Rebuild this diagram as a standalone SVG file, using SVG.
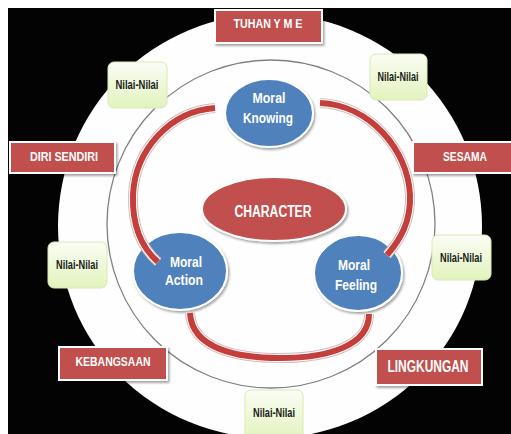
<svg xmlns="http://www.w3.org/2000/svg" width="511" height="434" viewBox="0 0 511 434">
<defs>
<style>
.lbl{font-family:"Liberation Sans",Arial,sans-serif;font-weight:bold;text-anchor:middle}
.wt{fill:#ffffff}
.dk{fill:#1a1a1a}
.rbox{fill:#C0504D;stroke:#ffffff;stroke-width:2}
.nbox{fill:url(#ng);stroke:#d9e9b4;stroke-width:1}
.blue{fill:#4F81BD;stroke:#ffffff;stroke-width:2}
.red{fill:#C0504D;stroke:#ffffff;stroke-width:2}
.band-bg{fill:none;stroke:#d9bcbb;stroke-width:10}
.band-hl{fill:none;stroke:#ffffff;stroke-width:8}
.band{fill:none;stroke:#C43E3B;stroke-width:6}
</style>
<linearGradient id="ng" x1="0" y1="0" x2="0" y2="1">
<stop offset="0" stop-color="#fbfdf5"/>
<stop offset="1" stop-color="#e2f3bd"/>
</linearGradient>
<filter id="sh" x="-20%" y="-20%" width="140%" height="140%">
<feDropShadow dx="1.5" dy="2" stdDeviation="1.2" flood-color="#000" flood-opacity="0.35"/>
</filter>
</defs>

<rect x="8" y="8" width="503" height="426" fill="#030303"/>
<circle cx="270" cy="226" r="212" fill="#fdfefd"/>
<circle cx="271" cy="224" r="164" fill="none" stroke="#808080" stroke-width="1.3"/>

<g id="tuhan">
<rect class="rbox" x="215" y="10" width="107" height="33" filter="url(#sh)"/>
<text class="lbl wt" x="268" y="28" font-size="12" textLength="69" lengthAdjust="spacingAndGlyphs">TUHAN Y M E</text>
</g>
<g id="diri-sendiri">
<rect class="rbox" x="10" y="142" width="105" height="31" filter="url(#sh)"/>
<text class="lbl wt" x="64" y="161" font-size="13" textLength="68" lengthAdjust="spacingAndGlyphs">DIRI SENDIRI</text>
</g>
<g id="sesama">
<rect class="rbox" x="413" y="142" width="100" height="31" filter="url(#sh)"/>
<text class="lbl wt" x="465" y="161" font-size="13" textLength="44" lengthAdjust="spacingAndGlyphs">SESAMA</text>
</g>
<g id="kebangsaan">
<rect class="rbox" x="59" y="347" width="108" height="33" filter="url(#sh)"/>
<text class="lbl wt" x="113" y="366" font-size="13" textLength="75" lengthAdjust="spacingAndGlyphs">KEBANGSAAN</text>
</g>
<g id="lingkungan">
<rect class="rbox" x="376" y="349" width="106" height="36" filter="url(#sh)"/>
<text class="lbl wt" x="428" y="372" font-size="16" textLength="81" lengthAdjust="spacingAndGlyphs">LINGKUNGAN</text>
</g>

<g id="nilai-tl">
<rect class="nbox" x="108" y="62" width="59" height="46" rx="6"/>
<text class="lbl dk" x="137" y="89" font-size="12" textLength="43" lengthAdjust="spacingAndGlyphs">Nilai-Nilai</text>
</g>
<g id="nilai-tr">
<rect class="nbox" x="370" y="54" width="57" height="46" rx="6"/>
<text class="lbl dk" x="398" y="81" font-size="12" textLength="41" lengthAdjust="spacingAndGlyphs">Nilai-Nilai</text>
</g>
<g id="nilai-l">
<rect class="nbox" x="48" y="242" width="59" height="46" rx="6"/>
<text class="lbl dk" x="77" y="269" font-size="12" textLength="42" lengthAdjust="spacingAndGlyphs">Nilai-Nilai</text>
</g>
<g id="nilai-r">
<rect class="nbox" x="432" y="235" width="59" height="45" rx="6"/>
<text class="lbl dk" x="461" y="262" font-size="12" textLength="42" lengthAdjust="spacingAndGlyphs">Nilai-Nilai</text>
</g>
<g id="nilai-b">
<rect class="nbox" x="245" y="390" width="58" height="50" rx="6"/>
<text class="lbl dk" x="274" y="417" font-size="12" textLength="42" lengthAdjust="spacingAndGlyphs">Nilai-Nilai</text>
</g>

<g id="moral-knowing">
<ellipse class="blue" cx="269" cy="113" rx="44" ry="34" filter="url(#sh)"/>
<text class="lbl wt" x="269" y="103" font-size="15" textLength="33" lengthAdjust="spacingAndGlyphs">Moral</text>
<text class="lbl wt" x="268" y="123" font-size="15" textLength="50" lengthAdjust="spacingAndGlyphs">Knowing</text>
</g>
<g id="moral-action">
<ellipse class="blue" cx="180" cy="271" rx="47" ry="39" filter="url(#sh)"/>
<text class="lbl wt" x="186" y="267" font-size="15" textLength="32" lengthAdjust="spacingAndGlyphs">Moral</text>
<text class="lbl wt" x="184" y="285" font-size="15" textLength="38" lengthAdjust="spacingAndGlyphs">Action</text>
</g>
<g id="moral-feeling">
<ellipse class="blue" cx="358" cy="273" rx="44" ry="38" filter="url(#sh)"/>
<text class="lbl wt" x="354" y="270" font-size="15" textLength="32" lengthAdjust="spacingAndGlyphs">Moral</text>
<text class="lbl wt" x="356" y="290" font-size="15" textLength="42" lengthAdjust="spacingAndGlyphs">Feeling</text>
</g>
<g id="character">
<ellipse class="red" cx="274" cy="209" rx="72" ry="32" filter="url(#sh)"/>
<text class="lbl wt" x="273" y="217" font-size="16" textLength="77" lengthAdjust="spacingAndGlyphs">CHARACTER</text>
</g>

<g id="connectors">
<path class="band-bg" d="M215,108 C170,111 135,150 133,195 C132,228 142,248 158,262"/>
<path class="band-hl" d="M215,108 C170,111 135,150 133,195 C132,228 142,248 158,262"/>
<path class="band" d="M215,108 C170,111 135,150 133,195 C132,228 142,248 158,262"/>
<path class="band-bg" d="M320,103 C370,105 408,150 410,195 C411,222 400,240 387,255"/>
<path class="band-hl" d="M320,103 C370,105 408,150 410,195 C411,222 400,240 387,255"/>
<path class="band" d="M320,103 C370,105 408,150 410,195 C411,222 400,240 387,255"/>
<path class="band-bg" d="M190,313 C192,350 240,358 280,358 C330,358 369,345 369,314"/>
<path class="band-hl" d="M190,313 C192,350 240,358 280,358 C330,358 369,345 369,314"/>
<path class="band" d="M190,313 C192,350 240,358 280,358 C330,358 369,345 369,314"/>
</g>
</svg>
